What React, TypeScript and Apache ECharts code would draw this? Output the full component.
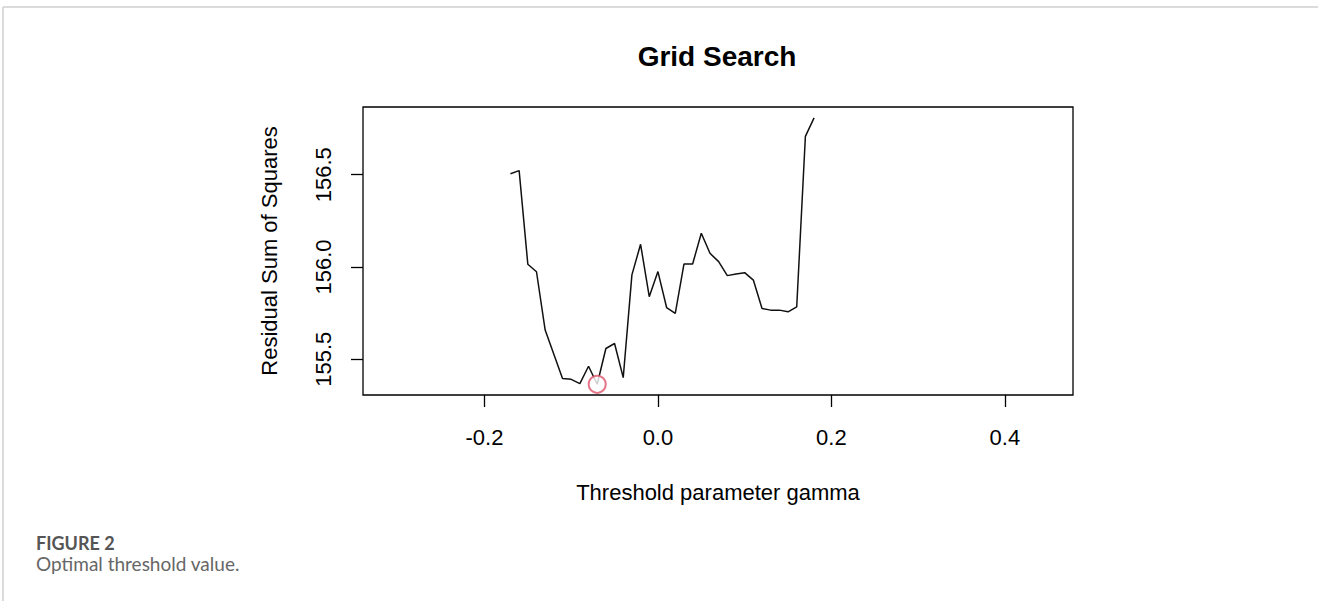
import React, { useEffect, useRef } from "react";
import * as echarts from "echarts";

const gammaValues = [
  -0.17, -0.16, -0.15, -0.14, -0.13, -0.12, -0.11, -0.1, -0.09, -0.08, -0.07, -0.06,
  -0.05, -0.04, -0.03, -0.02, -0.01, 0.0, 0.01, 0.02, 0.03, 0.04, 0.05, 0.06,
  0.07, 0.08, 0.09, 0.1, 0.11, 0.12, 0.13, 0.14, 0.15, 0.16, 0.17, 0.18,
];
const rssValues = [
  156.505, 156.522, 156.015, 155.974, 155.658, 155.527, 155.395, 155.391, 155.368, 155.462, 155.364, 155.558,
  155.585, 155.4, 155.957, 156.123, 155.839, 155.975, 155.78, 155.748, 156.016, 156.016, 156.183, 156.074,
  156.029, 155.953, 155.962, 155.969, 155.929, 155.775, 155.766, 155.766, 155.757, 155.784, 156.708, 156.808,
];
const optimum = [-0.07, 155.364];
const xTicks = [-0.2, 0.0, 0.2, 0.4];
const yTicks = [155.5, 156.0, 156.5];

const FONT = "'Liberation Sans', Arial, sans-serif";
const CAPTION_FONT = "Lato, 'Open Sans', sans-serif";

export default function App() {
  const ref = useRef<HTMLDivElement>(null);
  useEffect(() => {
    if (!ref.current) return;
    const chart = echarts.init(ref.current, null, { renderer: "svg" });
    const lineData = gammaValues.map((g, i) => [g, rssValues[i]]);
    chart.setOption({
      animation: false,
      backgroundColor: "#ffffff",
      title: {
        text: "Grid Search",
        left: 712,
        top: 37,
        textAlign: "center",
        textStyle: { fontFamily: FONT, fontSize: 28, fontWeight: "bold", color: "#000" },
      },
      grid: {
        left: 363,
        top: 107,
        width: 710,
        height: 288,
        show: true,
        borderColor: "#000",
        borderWidth: 1.3,
        backgroundColor: "transparent",
      },
      xAxis: {
        type: "value",
        min: -0.34,
        max: 0.4785,
        name: "Threshold parameter gamma",
        nameLocation: "middle",
        nameGap: 86,
        nameTextStyle: { fontFamily: FONT, fontSize: 22, color: "#000" },
        axisLine: { show: false, onZero: false },
        splitLine: { show: false },
        axisTick: { show: true, customValues: xTicks, length: 12, lineStyle: { color: "#000", width: 1.3 } },
        axisLabel: {
          customValues: xTicks,
          margin: 31,
          fontFamily: FONT,
          fontSize: 22,
          color: "#000",
          formatter: (v: number) => v.toFixed(1),
        },
      },
      yAxis: {
        type: "value",
        min: 155.306,
        max: 156.867,
        name: "Residual Sum of Squares",
        nameLocation: "middle",
        nameGap: 83,
        nameTextStyle: { fontFamily: FONT, fontSize: 22, color: "#000" },
        axisLine: { show: false, onZero: false },
        splitLine: { show: false },
        axisTick: { show: true, customValues: yTicks, length: 12, lineStyle: { color: "#000", width: 1.3 } },
        axisLabel: {
          customValues: yTicks,
          rotate: 90,
          margin: 29,
          fontFamily: FONT,
          fontSize: 22,
          color: "#000",
          formatter: (v: number) => v.toFixed(1),
        },
      },
      series: [
        {
          type: "line",
          data: lineData,
          showSymbol: false,
          symbol: "none",
          lineStyle: { color: "#111", width: 1.5 },
          z: 2,
        },
        {
          type: "scatter",
          data: [optimum],
          symbol: "emptyCircle",
          symbolSize: 17,
          itemStyle: { color: "#DF536B", borderColor: "#DF536B", borderWidth: 1 },
          z: 3,
        },
      ],
      graphic: [
        { type: "line", shape: { x1: 3, y1: 7, x2: 1318, y2: 7 }, style: { stroke: "#cfcfcf", lineWidth: 1.5 } },
        { type: "line", shape: { x1: 3, y1: 7, x2: 3, y2: 601 }, style: { stroke: "#cfcfcf", lineWidth: 1.5 } },
        {
          type: "text",
          left: 36,
          top: 534,
          style: { text: "FIGURE 2", fontFamily: CAPTION_FONT, fontSize: 18, lineHeight: 18, fontWeight: "bold", fill: "#555" },
        },
        {
          type: "text",
          left: 36,
          top: 554,
          style: { text: "Optimal threshold value.", fontFamily: CAPTION_FONT, fontSize: 19, lineHeight: 19, fill: "#666" },
        },
      ],
    });
    return () => chart.dispose();
  }, []);
  return <div ref={ref} style={{ position: "fixed", left: 0, top: 0, width: 1318, height: 601 }} />;
}
